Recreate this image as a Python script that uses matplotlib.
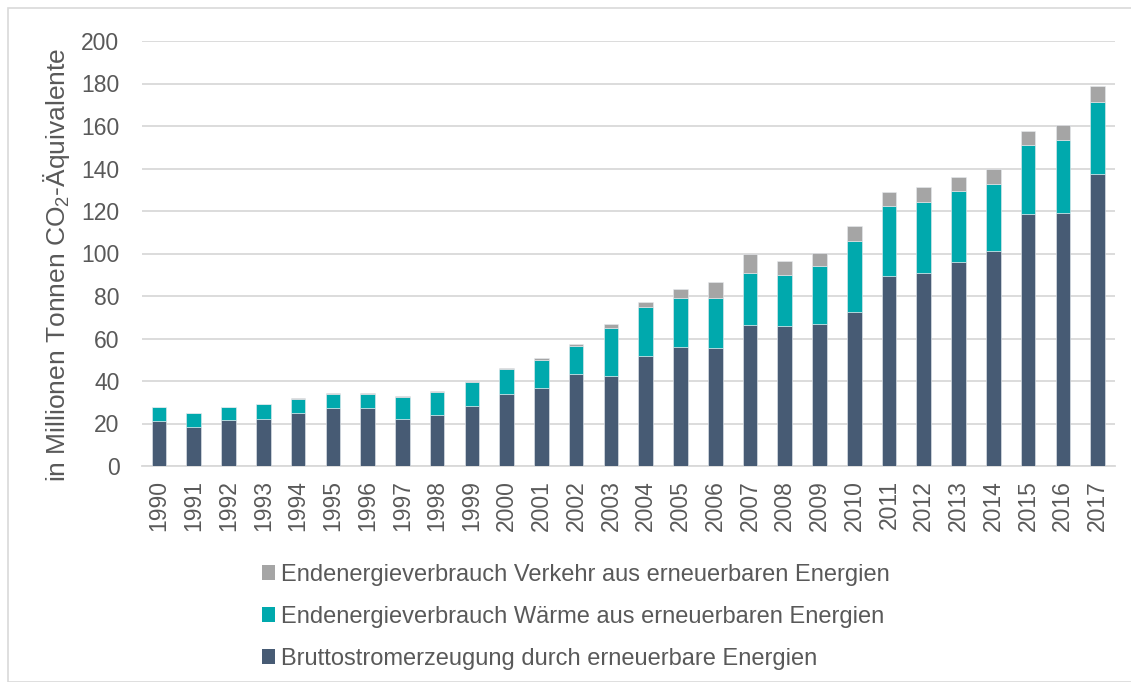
import matplotlib
matplotlib.use('Agg')
import matplotlib.pyplot as plt
from matplotlib.patches import Rectangle, Patch
import numpy as np

plt.rcParams['font.family'] = ['Liberation Sans', 'DejaVu Sans']
plt.rcParams['mathtext.fontset'] = 'custom'
plt.rcParams['mathtext.rm'] = 'Liberation Sans'
plt.rcParams['mathtext.it'] = 'Liberation Sans'

# Daten (Millionen Tonnen CO2-Äquivalente)
years = [str(y) for y in range(1990, 2018)]
strom = [21.2, 18.4, 21.5, 22.1, 24.9, 27.3, 27.3, 22.3, 23.8, 28.1,
         33.8, 36.8, 43.2, 42.2, 52.0, 55.9, 55.6, 66.3, 65.7, 66.8,
         72.7, 89.6, 91.0, 96.0, 101.3, 118.5, 119.2, 137.5]
waerme = [6.6, 6.5, 6.4, 6.9, 6.6, 6.8, 6.7, 10.2, 11.2, 11.5,
          11.8, 13.3, 13.1, 22.7, 22.6, 23.1, 23.4, 24.7, 24.1, 27.4,
          33.3, 32.9, 33.3, 33.5, 31.5, 32.6, 34.1, 33.8]
verkehr = [0.1, 0.1, 0.1, 0.1, 0.3, 0.2, 0.2, 0.3, 0.5, 0.4,
           0.7, 0.6, 1.0, 1.9, 2.4, 4.1, 7.7, 8.8, 6.9, 6.1,
           6.9, 6.5, 7.2, 6.4, 6.9, 6.4, 7.0, 7.3]

labels = ['Bruttostromerzeugung durch erneuerbare Energien',
          'Endenergieverbrauch Wärme aus erneuerbaren Energien',
          'Endenergieverbrauch Verkehr aus erneuerbaren Energien']
colors = ['#475B74', '#00A9AD', '#A5A5A5']
text_col = '#595959'

W, H = 1131, 682
fig = plt.figure(figsize=(W / 100, H / 100), dpi=100)
fig.patches.append(Rectangle((8 / W, 0), 1.2, (H - 8) / H, transform=fig.transFigure,
                             fill=False, edgecolor='#D9D9D9', linewidth=1.2))

ax = fig.add_axes([141.6 / W, 1 - 466 / H, (1115 - 141.6) / W, 425 / H])
x = np.arange(len(years))
bw = 0.42
ax.bar(x, strom, bw, color=colors[0], edgecolor='#E8EBEF', linewidth=0.4, zorder=3)
ax.bar(x, waerme, bw, bottom=strom, color=colors[1], edgecolor='#E8EBEF', linewidth=0.4, zorder=3)
bottom2 = np.array(strom) + np.array(waerme)
ax.bar(x, verkehr, bw, bottom=bottom2, color=colors[2], edgecolor='#E8EBEF', linewidth=0.4, zorder=3)

ax.set_xlim(-0.5, len(years) - 0.5)
ax.set_ylim(0, 200)
ax.set_yticks(range(0, 201, 20))
ax.yaxis.grid(True, color='#D9D9D9', linewidth=1.3, zorder=0)
ax.set_axisbelow(True)
for s in ['top', 'right', 'left']:
    ax.spines[s].set_visible(False)
ax.spines['bottom'].set_color('#D9D9D9')
ax.spines['bottom'].set_linewidth(1.3)
ax.tick_params(length=0, labelsize=16.5, colors=text_col)
ax.tick_params(axis='y', pad=16)
ax.set_xticks(x)
ax.set_xticklabels(years, rotation=90)
ax.tick_params(axis='x', pad=10)
ax.set_ylabel('in Millionen Tonnen CO$_2$-Äquivalente', fontsize=19, color=text_col)
ax.yaxis.set_label_coords(-0.072, 0.473)

handles = [Patch(facecolor=colors[i], edgecolor='none') for i in [2, 1, 0]]
fig.legend(handles, [labels[i] for i in [2, 1, 0]], loc='upper left',
           bbox_to_anchor=(250 / W, 1 - 552 / H), frameon=False, fontsize=17,
           labelcolor=text_col, handlelength=0.55, handleheight=0.55,
           handletextpad=0.25, labelspacing=0.85, borderpad=0)

fig.savefig('out.png', dpi=100)
